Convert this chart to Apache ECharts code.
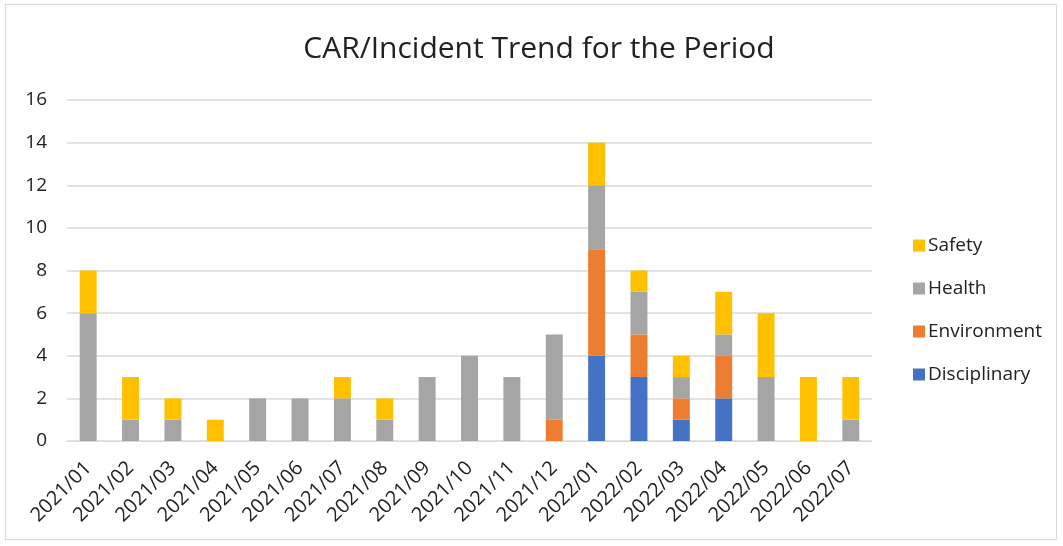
<!DOCTYPE html>
<html>
<head>
<meta charset="utf-8">
<script src="https://cdn.jsdelivr.net/npm/echarts@6/dist/echarts.min.js"></script>
<style>
    html, body { margin: 0; padding: 0; background: #fff; }
    #chart {
        position: absolute;
        left: 5px; top: 4px;
        width: 1052px; height: 536px;
        border: 1px solid #d9d9d9;
        box-sizing: border-box;
    }
</style>
</head>
<body>
<div id="chart"></div>
<script>
const months = [
    '2021/01', '2021/02', '2021/03', '2021/04', '2021/05', '2021/06', '2021/07',
    '2021/08', '2021/09', '2021/10', '2021/11', '2021/12', '2022/01', '2022/02',
    '2022/03', '2022/04', '2022/05', '2022/06', '2022/07',
]
const disciplinary = [0, 0, 0, 0, 0, 0, 0, 0, 0, 0, 0, 0, 4, 3, 1, 2, 0, 0, 0]
const environment = [0, 0, 0, 0, 0, 0, 0, 0, 0, 0, 0, 1, 5, 2, 1, 2, 0, 0, 0]
const health = [6, 1, 1, 0, 2, 2, 2, 1, 3, 4, 3, 4, 3, 2, 1, 1, 3, 0, 1]
const safety = [2, 2, 1, 1, 0, 0, 1, 1, 0, 0, 0, 0, 2, 1, 1, 2, 3, 3, 2]
const yTicks = [0, 2, 4, 6, 8, 10, 12, 14, 16]

const seriesDefs = [
    { name: 'Disciplinary', data: disciplinary, color: '#4472C4' },
    { name: 'Environment', data: environment, color: '#ED7D31' },
    { name: 'Health', data: health, color: '#A5A5A5' },
    { name: 'Safety', data: safety, color: '#FFC000' },
]

const font = "'Open Sans', 'Noto Sans', sans-serif"
const chart = echarts.init(document.getElementById('chart'))

chart.setOption({
    animation: false,
    textStyle: { fontFamily: font },
    title: {
        text: 'CAR/Incident Trend for the Period',
        left: 528,
        textAlign: 'center',
        top: 24,
        textStyle: { fontFamily: font, fontSize: 30, fontWeight: 'normal', color: '#222' },
    },
    legend: {
        orient: 'vertical',
        left: 902,
        top: 226,
        itemGap: 24,
        itemWidth: 12,
        itemHeight: 12,
        icon: 'rect',
        textStyle: { fontFamily: font, fontSize: 19, color: '#222', padding: [0, 0, 0, -2] },
        data: ['Safety', 'Health', 'Environment', 'Disciplinary'],
    },
    grid: {
        left: 61,
        right: 184,
        top: 95,
        bottom: 98,
    },
    xAxis: {
        type: 'category',
        data: months,
        axisLine: { lineStyle: { color: '#d9d9d9', width: 1 } },
        axisTick: { show: false },
        axisLabel: {
            rotate: 45,
            margin: 24,
            fontSize: 20,
            color: '#222',
            fontFamily: font,
        },
    },
    yAxis: {
        type: 'value',
        min: yTicks[0],
        max: yTicks[yTicks.length - 1],
        interval: 2,
        axisLine: { show: false },
        axisTick: { show: false },
        axisLabel: { fontSize: 19, color: '#222', margin: 20, fontFamily: font },
        splitLine: { lineStyle: { color: '#d9d9d9', width: 1.5 } },
    },
    series: seriesDefs.map(def => ({
        name: def.name,
        type: 'bar',
        stack: 'total',
        barWidth: '40%',
        itemStyle: { color: def.color },
        data: def.data.map(v => (v === 0 ? null : v)),
    })),
})
</script>
</body>
</html>
